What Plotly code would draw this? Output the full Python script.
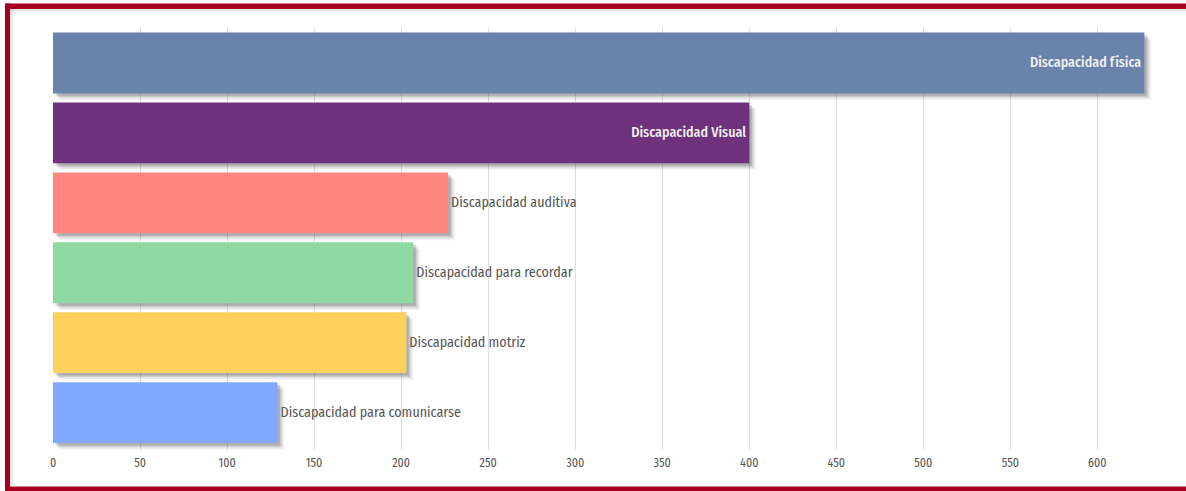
import plotly.graph_objects as go

categories = [
    "Discapacidad física",
    "Discapacidad Visual",
    "Discapacidad auditiva",
    "Discapacidad para recordar",
    "Discapacidad motriz",
    "Discapacidad para comunicarse",
]
values = [627, 400, 227, 207, 203, 129]
bar_colors = ["#6A83AA", "#6E317B", "#FF8482", "#8ED9A2", "#FCD05B", "#80A9FF"]
text_positions = ["inside", "inside", "outside", "outside", "outside", "outside"]
tick_values = [0, 50, 100, 150, 200, 250, 300, 350, 400, 450, 500, 550, 600]

W, H = 1186, 491
ML, MR, MT, MB = 53, 26, 28, 41
pw = W - ML - MR
ph = H - MT - MB
X_MAX = 636
BARGAP = 0.13

FONT = "Fira Sans Condensed, Liberation Sans Narrow, DejaVu Sans Condensed, Roboto Condensed, Roboto, sans-serif"

units_per_px = X_MAX / pw
cats_per_px = len(categories) / ph
bw = 1 - BARGAP

fig = go.Figure()

# soft drop shadows (style layers derived from the same data)
for shift_px, alpha in [(7, 0.04), (5.5, 0.07), (4, 0.10), (2.5, 0.14)]:
    fig.add_trace(go.Bar(
        y=categories,
        x=values,
        base=shift_px * units_per_px,
        orientation="h",
        width=bw,
        offset=-bw / 2 + shift_px * cats_per_px,
        marker=dict(color=f"rgba(0,0,0,{alpha})", line=dict(width=0)),
        hoverinfo="skip",
    ))

fig.add_trace(go.Bar(
    y=categories,
    x=values,
    orientation="h",
    width=bw,
    offset=-bw / 2,
    marker=dict(color=bar_colors, line=dict(width=0)),
    text=categories,
    textposition=text_positions,
    insidetextanchor="end",
    textangle=0,
    cliponaxis=False,
    insidetextfont=dict(color="#F2F2F2", size=14, family=FONT, weight=500),
    outsidetextfont=dict(color="#555555", size=14, family=FONT),
    hoverinfo="x+y",
))

def px_x(p):
    return (p - ML) / pw

def px_y(p):
    return 1 - (p - MT) / ph

frame_color = "#A50021"
shapes = []
# faint inner glow along the frame
for k, a in enumerate([0.10, 0.06, 0.03]):
    shapes.append(dict(type="rect", xref="paper", yref="paper",
                       x0=px_x(10 + k * 1.5), x1=px_x(11.5 + k * 1.5), y0=px_y(9), y1=px_y(486.5),
                       fillcolor=f"rgba(0,0,0,{a})", line=dict(width=0), layer="below"))
    shapes.append(dict(type="rect", xref="paper", yref="paper",
                       x0=px_x(10), x1=px_x(1186), y0=px_y(9 + k * 1.5), y1=px_y(10.5 + k * 1.5),
                       fillcolor=f"rgba(0,0,0,{a})", line=dict(width=0), layer="below"))
shapes += [
    dict(type="rect", xref="paper", yref="paper", x0=px_x(5), x1=px_x(10), y0=px_y(3.5), y1=px_y(491), fillcolor=frame_color, line=dict(width=0), layer="above"),
    dict(type="rect", xref="paper", yref="paper", x0=px_x(5), x1=px_x(1186), y0=px_y(3.5), y1=px_y(9), fillcolor=frame_color, line=dict(width=0), layer="above"),
    dict(type="rect", xref="paper", yref="paper", x0=px_x(5), x1=px_x(1186), y0=px_y(486.5), y1=px_y(491), fillcolor=frame_color, line=dict(width=0), layer="above"),
]

fig.update_layout(
    width=W, height=H,
    margin=dict(l=ML, r=MR, t=MT, b=MB),
    paper_bgcolor="white",
    plot_bgcolor="white",
    showlegend=False,
    barmode="overlay",
    bargap=BARGAP,
    shapes=shapes,
    font=dict(family=FONT, color="#555555"),
    xaxis=dict(
        range=[0, X_MAX],
        tickvals=tick_values,
        showgrid=True,
        gridcolor="#DEDEDE",
        gridwidth=1,
        zeroline=False,
        showline=False,
        ticks="",
        ticklabelstandoff=4,
        tickfont=dict(size=12, color="#555555", family=FONT),
        fixedrange=True,
    ),
    yaxis=dict(
        autorange="reversed",
        showticklabels=False,
        showgrid=False,
        zeroline=False,
        showline=False,
        ticks="",
        fixedrange=True,
    ),
)

fig.write_html(
    "out.html",
    config={"displayModeBar": False},
    post_script="document.body.style.margin='0';document.body.style.padding='0';document.body.style.overflow='hidden';",
)
